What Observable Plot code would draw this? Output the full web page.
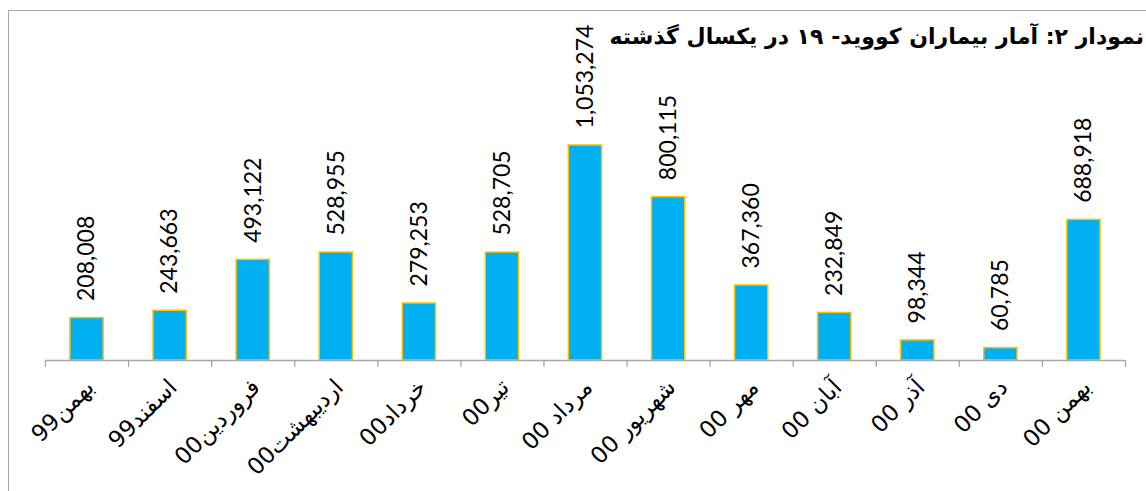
<!DOCTYPE html>
<html>
<head>
<meta charset="utf-8">
<script src="https://cdn.jsdelivr.net/npm/d3@7"></script>
<script src="https://cdn.jsdelivr.net/npm/@observablehq/plot@0.6"></script>
<style>
  html, body { margin: 0; padding: 0; background: #fff; overflow: hidden; width: 1146px; height: 491px; }
  #wrap { position: relative; width: 1146px; height: 491px; overflow: hidden; }
  #frame { position: absolute; left: 8px; top: 10px; width: 1300px; height: 700px; border: 1px solid #a6a6a6; box-sizing: border-box; }
  #title { position: absolute; right: 2px; top: 22px; white-space: nowrap; font-family: "DejaVu Sans", sans-serif; font-weight: bold; font-size: 22px; line-height: 30px; color: #000; direction: rtl; text-align: right; }
  #chart { position: absolute; left: 0; top: 0; }
</style>
</head>
<body>
<div id="wrap">
  <div id="frame"></div>
  <div id="chart"></div>
  <div id="title"></div>
</div>
<script>
const titleText = "نمودار ۲: آمار بیماران کووید- ۱۹ در یکسال گذشته";
const categories = ["بهمن99", "اسفند99", "فروردین00", "اردیبهشت00", "خرداد00", "تیر00", "مرداد 00", "شهریور 00", "مهر 00", "آبان 00", "آذر 00", "دی 00", "بهمن 00"];
const values = [208008, 243663, 493122, 528955, 279253, 528705, 1053274, 800115, 367360, 232849, 98344, 60785, 688918];

document.getElementById("title").textContent = titleText;

const data = categories.map((c, i) => ({i, label: c, value: values[i]}));
const fmt = d3.format(",");

const chart = Plot.plot({
  width: 1146,
  height: 491,
  marginLeft: 45,
  marginRight: 21,
  marginTop: 115,
  marginBottom: 131,
  x: {type: "linear", domain: [0, categories.length], axis: null},
  y: {domain: [0, 1200000], axis: null},
  style: {background: "transparent", overflow: "visible"},
  marks: [
    Plot.rectY(data, {x1: d => d.i + 0.3, x2: d => d.i + 0.7, y: "value", fill: "#00B0F0", stroke: "#FFC000", strokeWidth: 1.5}),
    Plot.ruleY([0], {stroke: "#a6a6a6", strokeWidth: 1.3}),
    Plot.axisX(d3.range(categories.length + 1), {tickSize: 7, tickFormat: () => "", stroke: "#a6a6a6", strokeWidth: 1.3}),
    Plot.text(data, {x: d => d.i + 0.5, y: "value", text: d => fmt(d.value), rotate: -90, textAnchor: "start", lineAnchor: "middle", dy: -17, fontSize: 23, fontFamily: "Lato, 'Open Sans', sans-serif", fill: "#000"}),
    Plot.text(data, {x: d => d.i + 0.5, frameAnchor: "bottom", text: "label", rotate: -45, textAnchor: "end", lineAnchor: "middle", dy: 23, dx: 3, fontSize: 23, fontFamily: "'DejaVu Sans', sans-serif", fill: "#000"})
  ]
});
document.getElementById("chart").appendChild(chart);
</script>
</body>
</html>
